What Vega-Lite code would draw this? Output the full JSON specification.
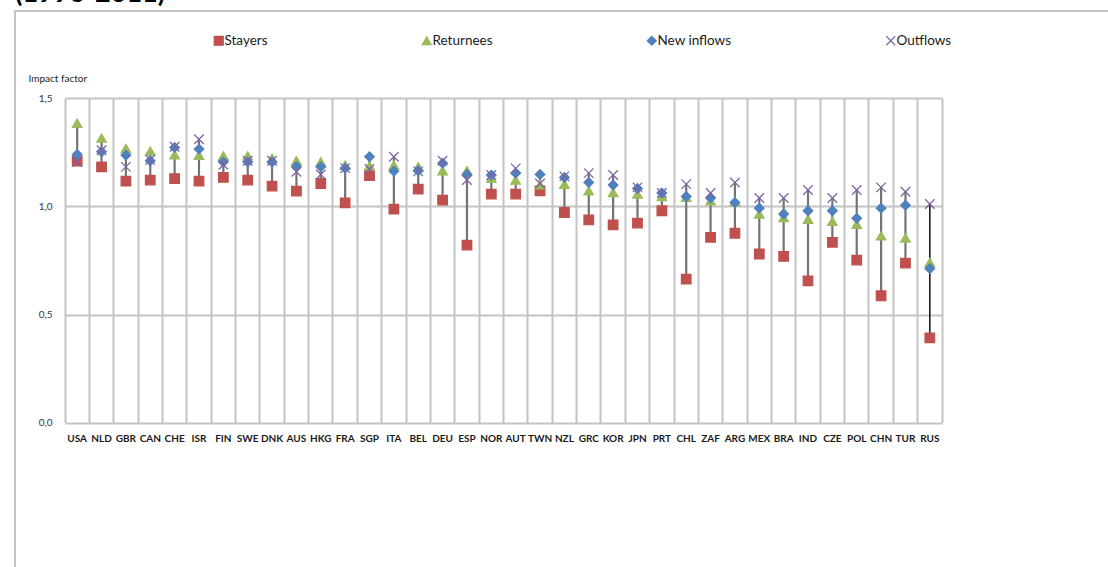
{
  "$schema": "https://vega.github.io/schema/vega-lite/v6.json",
  "width": 1100,
  "height": 566,
  "autosize": {"type": "none"},
  "padding": {"left": 15, "top": 11, "right": 0, "bottom": 0},
  "background": "white",
  "title": {
    "text": "(1996-2011)",
    "anchor": "start",
    "frame": "group",
    "font": "Lato",
    "fontSize": 27,
    "fontWeight": "bold",
    "color": "#000000",
    "offset": 3
  },
  "data": {
    "values": [
      {"c": "USA", "s": "Stayers", "v": 1.21}, {"c": "USA", "s": "Returnees", "v": 1.385}, {"c": "USA", "s": "New inflows", "v": 1.24}, {"c": "USA", "s": "Outflows", "v": 1.205},
      {"c": "NLD", "s": "Stayers", "v": 1.183}, {"c": "NLD", "s": "Returnees", "v": 1.316}, {"c": "NLD", "s": "New inflows", "v": 1.253}, {"c": "NLD", "s": "Outflows", "v": 1.26},
      {"c": "GBR", "s": "Stayers", "v": 1.117}, {"c": "GBR", "s": "Returnees", "v": 1.268}, {"c": "GBR", "s": "New inflows", "v": 1.237}, {"c": "GBR", "s": "Outflows", "v": 1.183},
      {"c": "CAN", "s": "Stayers", "v": 1.122}, {"c": "CAN", "s": "Returnees", "v": 1.256}, {"c": "CAN", "s": "New inflows", "v": 1.211}, {"c": "CAN", "s": "Outflows", "v": 1.216},
      {"c": "CHE", "s": "Stayers", "v": 1.129}, {"c": "CHE", "s": "Returnees", "v": 1.239}, {"c": "CHE", "s": "New inflows", "v": 1.273}, {"c": "CHE", "s": "Outflows", "v": 1.276},
      {"c": "ISR", "s": "Stayers", "v": 1.117}, {"c": "ISR", "s": "Returnees", "v": 1.237}, {"c": "ISR", "s": "New inflows", "v": 1.265}, {"c": "ISR", "s": "Outflows", "v": 1.311},
      {"c": "FIN", "s": "Stayers", "v": 1.134}, {"c": "FIN", "s": "Returnees", "v": 1.234}, {"c": "FIN", "s": "New inflows", "v": 1.206}, {"c": "FIN", "s": "Outflows", "v": 1.193},
      {"c": "SWE", "s": "Stayers", "v": 1.122}, {"c": "SWE", "s": "Returnees", "v": 1.234}, {"c": "SWE", "s": "New inflows", "v": 1.206}, {"c": "SWE", "s": "Outflows", "v": 1.211},
      {"c": "DNK", "s": "Stayers", "v": 1.094}, {"c": "DNK", "s": "Returnees", "v": 1.222}, {"c": "DNK", "s": "New inflows", "v": 1.206}, {"c": "DNK", "s": "Outflows", "v": 1.211},
      {"c": "AUS", "s": "Stayers", "v": 1.071}, {"c": "AUS", "s": "Returnees", "v": 1.211}, {"c": "AUS", "s": "New inflows", "v": 1.185}, {"c": "AUS", "s": "Outflows", "v": 1.16},
      {"c": "HKG", "s": "Stayers", "v": 1.106}, {"c": "HKG", "s": "Returnees", "v": 1.206}, {"c": "HKG", "s": "New inflows", "v": 1.183}, {"c": "HKG", "s": "Outflows", "v": 1.148},
      {"c": "FRA", "s": "Stayers", "v": 1.016}, {"c": "FRA", "s": "Returnees", "v": 1.191}, {"c": "FRA", "s": "New inflows", "v": 1.177}, {"c": "FRA", "s": "Outflows", "v": 1.177},
      {"c": "SGP", "s": "Stayers", "v": 1.142}, {"c": "SGP", "s": "Returnees", "v": 1.188}, {"c": "SGP", "s": "New inflows", "v": 1.23}, {"c": "SGP", "s": "Outflows", "v": 1.173},
      {"c": "ITA", "s": "Stayers", "v": 0.988}, {"c": "ITA", "s": "Returnees", "v": 1.191}, {"c": "ITA", "s": "New inflows", "v": 1.163}, {"c": "ITA", "s": "Outflows", "v": 1.23},
      {"c": "BEL", "s": "Stayers", "v": 1.08}, {"c": "BEL", "s": "Returnees", "v": 1.183}, {"c": "BEL", "s": "New inflows", "v": 1.165}, {"c": "BEL", "s": "Outflows", "v": 1.162},
      {"c": "DEU", "s": "Stayers", "v": 1.029}, {"c": "DEU", "s": "Returnees", "v": 1.165}, {"c": "DEU", "s": "New inflows", "v": 1.2}, {"c": "DEU", "s": "Outflows", "v": 1.211},
      {"c": "ESP", "s": "Stayers", "v": 0.821}, {"c": "ESP", "s": "Returnees", "v": 1.165}, {"c": "ESP", "s": "New inflows", "v": 1.148}, {"c": "ESP", "s": "Outflows", "v": 1.122},
      {"c": "NOR", "s": "Stayers", "v": 1.057}, {"c": "NOR", "s": "Returnees", "v": 1.131}, {"c": "NOR", "s": "New inflows", "v": 1.145}, {"c": "NOR", "s": "Outflows", "v": 1.145},
      {"c": "AUT", "s": "Stayers", "v": 1.057}, {"c": "AUT", "s": "Returnees", "v": 1.122}, {"c": "AUT", "s": "New inflows", "v": 1.154}, {"c": "AUT", "s": "Outflows", "v": 1.176},
      {"c": "TWN", "s": "Stayers", "v": 1.072}, {"c": "TWN", "s": "Returnees", "v": 1.1}, {"c": "TWN", "s": "New inflows", "v": 1.148}, {"c": "TWN", "s": "Outflows", "v": 1.106},
      {"c": "NZL", "s": "Stayers", "v": 0.972}, {"c": "NZL", "s": "Returnees", "v": 1.103}, {"c": "NZL", "s": "New inflows", "v": 1.134}, {"c": "NZL", "s": "Outflows", "v": 1.139},
      {"c": "GRC", "s": "Stayers", "v": 0.938}, {"c": "GRC", "s": "Returnees", "v": 1.072}, {"c": "GRC", "s": "New inflows", "v": 1.111}, {"c": "GRC", "s": "Outflows", "v": 1.154},
      {"c": "KOR", "s": "Stayers", "v": 0.915}, {"c": "KOR", "s": "Returnees", "v": 1.065}, {"c": "KOR", "s": "New inflows", "v": 1.099}, {"c": "KOR", "s": "Outflows", "v": 1.145},
      {"c": "JPN", "s": "Stayers", "v": 0.923}, {"c": "JPN", "s": "Returnees", "v": 1.057}, {"c": "JPN", "s": "New inflows", "v": 1.083}, {"c": "JPN", "s": "Outflows", "v": 1.088},
      {"c": "PRT", "s": "Stayers", "v": 0.98}, {"c": "PRT", "s": "Returnees", "v": 1.046}, {"c": "PRT", "s": "New inflows", "v": 1.062}, {"c": "PRT", "s": "Outflows", "v": 1.062},
      {"c": "CHL", "s": "Stayers", "v": 0.664}, {"c": "CHL", "s": "Returnees", "v": 1.042}, {"c": "CHL", "s": "New inflows", "v": 1.046}, {"c": "CHL", "s": "Outflows", "v": 1.103},
      {"c": "ZAF", "s": "Stayers", "v": 0.857}, {"c": "ZAF", "s": "Returnees", "v": 1.026}, {"c": "ZAF", "s": "New inflows", "v": 1.039}, {"c": "ZAF", "s": "Outflows", "v": 1.062},
      {"c": "ARG", "s": "Stayers", "v": 0.876}, {"c": "ARG", "s": "Returnees", "v": 1.022}, {"c": "ARG", "s": "New inflows", "v": 1.018}, {"c": "ARG", "s": "Outflows", "v": 1.111},
      {"c": "MEX", "s": "Stayers", "v": 0.78}, {"c": "MEX", "s": "Returnees", "v": 0.965}, {"c": "MEX", "s": "New inflows", "v": 0.992}, {"c": "MEX", "s": "Outflows", "v": 1.039},
      {"c": "BRA", "s": "Stayers", "v": 0.769}, {"c": "BRA", "s": "Returnees", "v": 0.949}, {"c": "BRA", "s": "New inflows", "v": 0.965}, {"c": "BRA", "s": "Outflows", "v": 1.039},
      {"c": "IND", "s": "Stayers", "v": 0.656}, {"c": "IND", "s": "Returnees", "v": 0.941}, {"c": "IND", "s": "New inflows", "v": 0.98}, {"c": "IND", "s": "Outflows", "v": 1.076},
      {"c": "CZE", "s": "Stayers", "v": 0.834}, {"c": "CZE", "s": "Returnees", "v": 0.931}, {"c": "CZE", "s": "New inflows", "v": 0.98}, {"c": "CZE", "s": "Outflows", "v": 1.039},
      {"c": "POL", "s": "Stayers", "v": 0.752}, {"c": "POL", "s": "Returnees", "v": 0.918}, {"c": "POL", "s": "New inflows", "v": 0.945}, {"c": "POL", "s": "Outflows", "v": 1.076},
      {"c": "CHN", "s": "Stayers", "v": 0.587}, {"c": "CHN", "s": "Returnees", "v": 0.864}, {"c": "CHN", "s": "New inflows", "v": 0.992}, {"c": "CHN", "s": "Outflows", "v": 1.088},
      {"c": "TUR", "s": "Stayers", "v": 0.738}, {"c": "TUR", "s": "Returnees", "v": 0.854}, {"c": "TUR", "s": "New inflows", "v": 1.006}, {"c": "TUR", "s": "Outflows", "v": 1.068},
      {"c": "RUS", "s": "Stayers", "v": 0.392}, {"c": "RUS", "s": "Returnees", "v": 0.741}, {"c": "RUS", "s": "New inflows", "v": 0.713}, {"c": "RUS", "s": "Outflows", "v": 1.011}
    ]
  },
  "layer": [
    {
      "transform": [
        {"aggregate": [{"op": "min", "field": "v", "as": "lo"}, {"op": "max", "field": "v", "as": "hi"}], "groupby": ["c"]}
      ],
      "mark": {"type": "rule"},
      "encoding": {
        "x": {
          "field": "c",
          "type": "nominal",
          "scale": {
            "type": "band",
            "paddingInner": 0,
            "paddingOuter": 0,
            "range": [50, 927],
            "domain": ["USA", "NLD", "GBR", "CAN", "CHE", "ISR", "FIN", "SWE", "DNK", "AUS", "HKG", "FRA", "SGP", "ITA", "BEL", "DEU", "ESP", "NOR", "AUT", "TWN", "NZL", "GRC", "KOR", "JPN", "PRT", "CHL", "ZAF", "ARG", "MEX", "BRA", "IND", "CZE", "POL", "CHN", "TUR", "RUS"]
          },
          "axis": {
            "orient": "top",
            "bandPosition": 0,
            "grid": true,
            "gridColor": "#c4c4c4",
            "gridWidth": 2,
            "labels": false,
            "ticks": false,
            "domain": false,
            "title": null
          }
        },
        "y": {
          "field": "lo",
          "type": "quantitative",
          "scale": {"domain": [0, 1.5], "range": [411.7, 87.3], "nice": false, "zero": false},
          "axis": {
            "orient": "left",
            "offset": -50,
            "values": [0, 0.5, 1, 1.5],
            "labelExpr": "replace(format(datum.value, '.1f'), '.', ',')",
            "grid": true,
            "gridColor": "#c4c4c4",
            "gridWidth": 2,
            "domain": false,
            "ticks": false,
            "labelPadding": 13,
            "labelFont": "Lato",
            "labelFontSize": 10,
            "labelColor": "#333333",
            "title": "Impact factor",
            "titleFont": "Lato",
            "titleFontSize": 10,
            "titleFontWeight": "normal",
            "titleColor": "#222222",
            "titleAngle": 0,
            "titleAlign": "left",
            "titleBaseline": "middle",
            "titleX": -37,
            "titleY": 67
          }
        },
        "y2": {"field": "hi"},
        "color": {"condition": {"test": "datum.c === 'RUS'", "value": "#111111"}, "value": "#747474"},
        "strokeWidth": {"condition": {"test": "datum.c === 'RUS'", "value": 1.5}, "value": 2.2}
      }
    },
    {
      "mark": {"type": "point", "filled": true, "size": 90, "strokeWidth": 1.3, "opacity": 1},
      "encoding": {
        "x": {
          "field": "c",
          "type": "nominal",
          "scale": {
            "type": "band",
            "paddingInner": 0,
            "paddingOuter": 0,
            "range": [50, 927],
            "domain": ["USA", "NLD", "GBR", "CAN", "CHE", "ISR", "FIN", "SWE", "DNK", "AUS", "HKG", "FRA", "SGP", "ITA", "BEL", "DEU", "ESP", "NOR", "AUT", "TWN", "NZL", "GRC", "KOR", "JPN", "PRT", "CHL", "ZAF", "ARG", "MEX", "BRA", "IND", "CZE", "POL", "CHN", "TUR", "RUS"]
          },
          "axis": {
            "orient": "bottom",
            "offset": -154.3,
            "grid": false,
            "ticks": false,
            "domain": false,
            "labelAngle": 0,
            "labelPadding": 11,
            "labelOverlap": false,
            "labelFont": "Lato",
            "labelFontSize": 10,
            "labelFontWeight": "bold",
            "labelColor": "#1a1a1a",
            "title": null
          }
        },
        "y": {
          "field": "v",
          "type": "quantitative",
          "scale": {"domain": [0, 1.5], "range": [411.7, 87.3], "nice": false, "zero": false},
          "axis": {
            "orient": "right",
            "offset": -173,
            "grid": false,
            "ticks": false,
            "labels": false,
            "domain": true,
            "domainColor": "#c4c4c4",
            "domainWidth": 2,
            "title": null
          }
        },
        "color": {
          "field": "s",
          "type": "nominal",
          "title": null,
          "scale": {"domain": ["Stayers", "Returnees", "New inflows", "Outflows"], "range": ["#C0504D", "#9BBB59", "#4F81BD", "#8064A2"]}
        },
        "stroke": {
          "field": "s",
          "type": "nominal",
          "title": null,
          "scale": {"domain": ["Stayers", "Returnees", "New inflows", "Outflows"], "range": ["#C0504D", "#9BBB59", "#4F81BD", "#8064A2"]}
        },
        "shape": {
          "field": "s",
          "type": "nominal",
          "title": null,
          "scale": {"domain": ["Stayers", "Returnees", "New inflows", "Outflows"], "range": ["square", "triangle-up", "diamond", "M-1,-1L1,1M1,-1L-1,1"]}
        }
      }
    }
  ],
  "resolve": {"axis": {"x": "independent", "y": "independent"}},
  "config": {
    "view": {"stroke": "#c4c4c4", "strokeWidth": 2},
    "legend": {
      "orient": "none",
      "legendX": 197,
      "legendY": 23,
      "direction": "horizontal",
      "columns": 4,
      "gridAlign": "none",
      "columnPadding": 151,
      "padding": 0,
      "labelFont": "Lato",
      "labelFontSize": 13.5,
      "labelColor": "#1a1a1a",
      "labelOffset": -1,
      "symbolSize": 80,
      "symbolStrokeWidth": 1.2
    }
  }
}
